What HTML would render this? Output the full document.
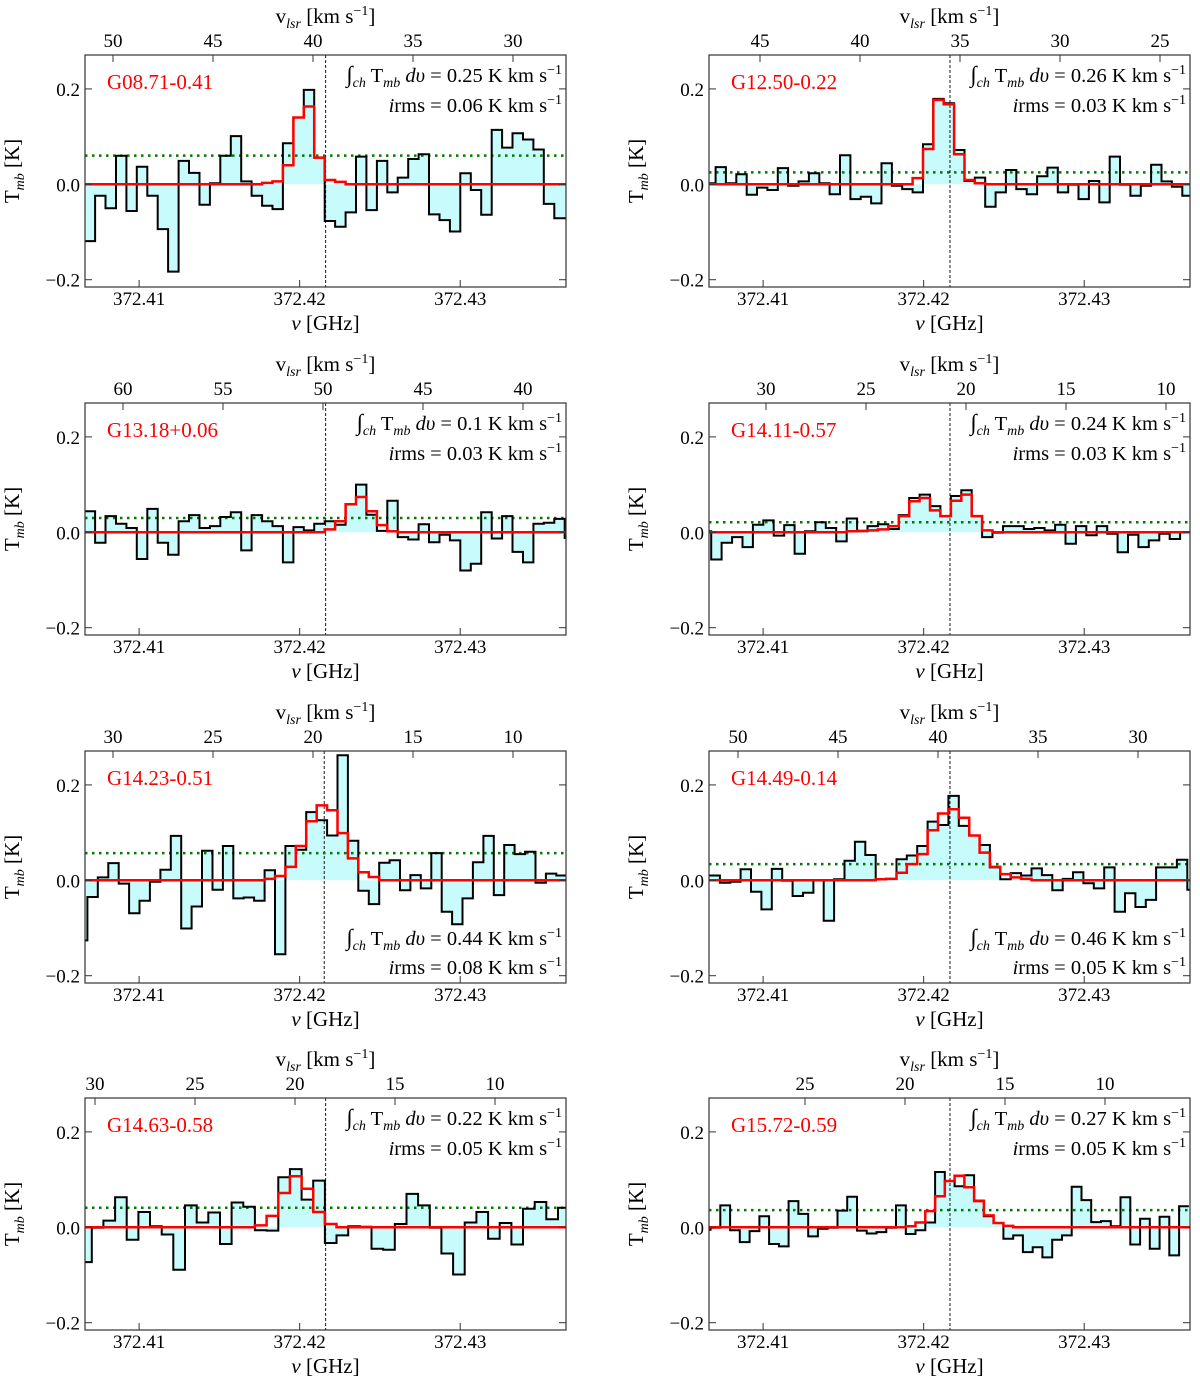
<!DOCTYPE html>
<html><head><meta charset="utf-8"><title>Spectra</title>
<style>
html,body{margin:0;padding:0;background:#fff;}
svg{display:block;font-family:"Liberation Serif",serif;}
</style></head>
<body>
<svg id="fig" width="1200" height="1390" viewBox="0 0 1200 1390" xmlns="http://www.w3.org/2000/svg"></svg>
<script>
// ---- data ----
const names = ["G08.71-0.41","G12.50-0.22","G13.18+0.06","G14.11-0.57","G14.23-0.51","G14.49-0.14","G14.63-0.58","G15.72-0.59"];
const intFlux = ["0.25","0.26","0.1","0.24","0.44","0.46","0.22","0.27"];
const irms = ["0.06","0.03","0.03","0.03","0.08","0.05","0.05","0.05"];
const rmsLevel = [0.06,0.025,0.03,0.021,0.057,0.034,0.041,0.036];
const nuStart = [372.406609,372.406392,372.406609,372.406119,372.406132,372.40666,372.406325,372.406119];
const nuStep = [0.00065,0.000646,0.00065,0.000649,0.000649,0.000647,0.000726,0.000608];
const restNu = [372.42162,372.42164,372.42162,372.42164,372.42153,372.42164,372.42162,372.42164];
const vLeft = [51.4,47.55,61.9,32.85,31.4,51.45,30.5,29.8];
const T1=[-0.119,-0.024,-0.05,0.06,-0.056,0.037,-0.024,-0.094,-0.183,0.049,0.024,-0.043,0.002,0.06,0.101,0.006,-0.024,-0.045,-0.052,0.086,0.14,0.198,0.056,-0.077,-0.089,-0.059,0.058,-0.054,0.049,-0.017,0.014,0.053,0.063,-0.063,-0.075,-0.099,0.023,-0.012,-0.064,0.114,0.077,0.107,0.094,0.073,-0.041,-0.071,-0.071];
const T2=[0.002,0.036,0.002,0.021,-0.022,-0.007,-0.012,0.034,-0.003,0.006,0.023,0.002,-0.021,0.061,-0.031,-0.026,-0.04,0.044,-0.003,-0.01,-0.017,0.084,0.179,0.17,0.072,0.007,0.014,-0.047,-0.017,0.03,-0.01,-0.021,0.017,0.035,-0.017,-0.001,-0.031,0.007,-0.038,0.058,-0.001,-0.024,-0.003,0.041,0.006,-0.005,-0.024];
const T3=[0.044,-0.022,0.034,0.018,0.009,-0.056,0.049,-0.022,-0.047,0.023,0.036,0.009,0.013,0.032,0.042,-0.038,0.036,0.023,0.013,-0.063,0.011,0.004,0.018,0.023,0.016,0.059,0.1,0.037,0.003,0.066,-0.01,-0.015,0.017,-0.021,-0.005,-0.017,-0.08,-0.066,0.042,-0.013,0.034,-0.041,-0.063,0.018,0.02,0.028,-0.012];
const T4=[0.002,-0.057,-0.022,-0.01,-0.031,0.016,0.025,-0.007,0.015,-0.045,0.002,0.021,0.009,-0.019,0.029,0.002,0.013,0.017,0.007,0.036,0.072,0.079,0.055,0.034,0.076,0.088,0.034,-0.01,-0.001,0.013,0.013,0.007,0.009,0.004,0.016,-0.024,0.013,-0.006,0.013,-0.003,-0.042,-0.005,-0.031,-0.017,-0.003,-0.014,0];
const T5=[-0.126,-0.035,0.006,0.036,-0.007,-0.069,-0.043,-0.003,0.022,0.093,-0.101,-0.055,0.062,-0.02,0.072,-0.038,-0.036,-0.043,0.021,-0.155,0.072,0.064,0.143,0.126,0.094,0.262,0.083,-0.022,-0.05,0.037,0.042,-0.021,0.011,-0.017,0.057,-0.066,-0.092,-0.038,0.038,0.093,-0.031,0.074,0.055,0.06,-0.005,0.014,0.01];
const T6=[0.01,-0.005,-0.003,0.023,-0.024,-0.061,0.024,-0.001,-0.033,-0.026,0,-0.085,0.002,0.041,0.081,0.053,0.002,0.003,0.044,0.052,0.072,0.123,0.116,0.177,0.114,0.094,0.074,0.027,0.002,0.015,0.01,0.025,0.011,-0.021,0.003,0.017,-0.006,-0.017,0.027,-0.066,-0.027,-0.056,-0.041,0.027,0.027,0.043,-0.02];
const T7=[-0.073,-0.001,0.014,0.063,-0.026,0.032,0.002,-0.015,-0.089,0.046,0.01,0.031,-0.035,0.052,0.043,-0.006,-0.007,0.105,0.122,0.058,0.098,-0.033,-0.017,0.002,0.001,-0.045,-0.047,0.007,0.07,0.046,-0.001,-0.055,-0.099,0.01,0.032,-0.024,0.009,-0.036,0.039,0.053,0.017,0.041];
const T8=[-0.005,-0.001,0.046,-0.006,-0.031,-0.008,0.023,-0.035,-0.04,0.055,0.028,-0.019,-0.003,-0.001,0.035,0.064,-0.007,-0.013,-0.01,-0.001,0.046,-0.014,-0.006,0.01,0.116,0.097,0.086,0.109,0.056,0.023,0.009,-0.024,-0.017,-0.052,-0.042,-0.063,-0.026,-0.017,0.085,0.057,0.011,0.013,0.002,0.063,-0.036,0.018,-0.045,0.022,-0.059,0.044];
const fitFirst = [17,20,23,14,18,16,15,21];
const F1=[0.003,0.006,0.04,0.14,0.163,0.056,0.009,0.005];
const F2=[0.013,0.074,0.177,0.168,0.063,0.009,0.002];
const F3=[0.006,0.023,0.059,0.074,0.044,0.015,0.002];
const F4=[0.002,0.003,0.004,0.006,0.013,0.034,0.065,0.072,0.046,0.034,0.066,0.079,0.034,0.004];
const F5=[0.003,0.009,0.028,0.072,0.124,0.157,0.147,0.099,0.046,0.017,0.007];
const F6=[0.002,0.003,0.016,0.034,0.055,0.105,0.14,0.149,0.131,0.094,0.058,0.028,0.013,0.006,0.003];
const F7=[0.004,0.024,0.072,0.107,0.081,0.032,0.007];
const F8=[0.002,0.01,0.034,0.065,0.097,0.108,0.084,0.055,0.025,0.009,0.003];
const yTicks=[0.2,0.0,-0.2];
const yTickLabels=["0.2","0.0","\u22120.2"];
const xTicks=[372.41,372.42,372.43];
const xTickLabels=["372.41","372.42","372.43"];
const vTickVals=[[50,45,40,35,30],[45,40,35,30,25],[60,55,50,45,40],[30,25,20,15,10],[30,25,20,15,10],[50,45,40,35,30],[30,25,20,15,10],[25,20,15,10]];
const annotBottom=[false,false,false,false,true,true,false,false];
const Tall=[T1,T2,T3,T4,T5,T6,T7,T8];
const Fall=[F1,F2,F3,F4,F5,F6,F7,F8];

// ---- layout ----
const NS="http://www.w3.org/2000/svg";
const svg=document.getElementById('fig');
const colX=[85,709], rowY=[0,348,696,1043];
const PW=481, TOP=55, BOT=287, Y0=184.3, KPX=477;
const NUMIN=372.40663, NUMAX=372.43659;
function mk(tag,attrs,parent){const e=document.createElementNS(NS,tag);for(const k in attrs)e.setAttribute(k,attrs[k]);(parent||svg).appendChild(e);return e;}

for(let p=0;p<8;p++){
  const col=p%2,row=Math.floor(p/2);
  const x0=colX[col], dy=rowY[row];
  const X=nu=>x0+(nu-NUMIN)/(NUMAX-NUMIN)*PW;
  const Y=t=>dy+Y0-t*KPX;
  const g=mk('g',{});
  
  
  const cid='clip'+p;
  const cp=mk('clipPath',{id:cid},g);mk('rect',{x:x0,y:dy+TOP,width:PW,height:BOT-TOP},cp);
  const T=Tall[p];
  let d='';
  for(let i=0;i<T.length;i++){
    const xa=X(nuStart[p]+i*nuStep[p]), xb=X(nuStart[p]+(i+1)*nuStep[p]), y=Y(T[i]);
    d+=(i===0?'M':'L')+xa.toFixed(1)+','+y.toFixed(1)+'L'+xb.toFixed(1)+','+y.toFixed(1);
  }
  const xs=X(nuStart[p]), xe=X(nuStart[p]+T.length*nuStep[p]);
  const fill='M'+xs.toFixed(1)+','+Y(0)+d.replace(/^M/,'L')+'L'+xe.toFixed(1)+','+Y(0)+'Z';
  const cg=mk('g',{'clip-path':'url(#'+cid+')'},g);
  const fp=mk('path',{d:fill,fill:'#c8fbfb',stroke:'none'},cg);
  
  
  // fit: continuous step
  const F=Fall[p];
  const fs=fitFirst[p];
  let fd='M'+X(NUMIN-0.001).toFixed(1)+','+Y(0).toFixed(1);
  let prev=0;
  for(let i=0;i<F.length;i++){
    const xa=X(nuStart[p]+(fs+i)*nuStep[p]), xb=X(nuStart[p]+(fs+i+1)*nuStep[p]);
    fd+='L'+xa.toFixed(1)+','+Y(prev).toFixed(1)+'L'+xa.toFixed(1)+','+Y(F[i]).toFixed(1)+'L'+xb.toFixed(1)+','+Y(F[i]).toFixed(1);
    prev=F[i];
  }
  const xEnd=X(nuStart[p]+(fs+F.length)*nuStep[p]);
  fd+='L'+xEnd.toFixed(1)+','+Y(0).toFixed(1)+'L'+X(NUMAX+0.001).toFixed(1)+','+Y(0).toFixed(1);
  const dl=mk('line',{x1:X(restNu[p]),x2:X(restNu[p]),y1:dy+TOP,y2:dy+BOT,stroke:'#000','stroke-width':0.9,'stroke-dasharray':'3,2'},cg);
  
  
  const rl=mk('line',{x1:x0,x2:x0+PW,y1:Y(rmsLevel[p]),y2:Y(rmsLevel[p]),stroke:'#007a00','stroke-width':2.5,'stroke-dasharray':'2.5,4.5'},cg);
  
  
  const sp=mk('path',{d:d,fill:'none',stroke:'#000','stroke-width':2,'stroke-linejoin':'miter'},cg);
  
  
  const fl=mk('path',{d:fd,fill:'none',stroke:'#ff0000','stroke-width':2.5},cg);
  
  
  const fr=mk('rect',{x:x0,y:dy+TOP,width:PW,height:BOT-TOP,fill:'none',stroke:'#333','stroke-width':1.2},g);
  
  
  for(let k=0;k<yTicks.length;k++){
    const y=Y(yTicks[k]);
    mk('line',{x1:x0,x2:x0+7,y1:y,y2:y,stroke:'#333','stroke-width':1},g);
    mk('line',{x1:x0+PW-7,x2:x0+PW,y1:y,y2:y,stroke:'#333','stroke-width':1},g);
    const t=mk('text',{x:x0-5,y:y+7,'text-anchor':'end','font-size':19,fill:'#000'},g);
    t.textContent=yTickLabels[k];
    
    
  }
  for(let k=0;k<xTicks.length;k++){
    const x=X(xTicks[k]);
    mk('line',{x1:x,x2:x,y1:dy+BOT,y2:dy+BOT-7,stroke:'#333','stroke-width':1},g);
    const t=mk('text',{x:x,y:dy+305,'text-anchor':'middle','font-size':19,fill:'#000'},g);
    t.textContent=xTickLabels[k];
    
    
  }
  const vt=vTickVals[p];
  for(let k=0;k<vt.length;k++){
    const x=x0+(vLeft[p]-vt[k])/0.05;
    mk('line',{x1:x,x2:x,y1:dy+TOP,y2:dy+TOP+7,stroke:'#333','stroke-width':1},g);
    const t=mk('text',{x:x,y:dy+47,'text-anchor':'middle','font-size':19,fill:'#000'},g);
    t.textContent=String(vt[k]);
    
    
  }
  const cx=x0+PW/2;
  const xl=mk('text',{x:cx,y:dy+330,'text-anchor':'middle','font-size':21,fill:'#000'},g);
  xl.innerHTML='<tspan font-style="italic">ν</tspan> [GHz]';
  
  
  const vl=mk('text',{x:cx,y:dy+23,'text-anchor':'middle','font-size':21,fill:'#000'},g);
  vl.innerHTML='v<tspan font-size="14" font-style="italic" dy="5">lsr</tspan><tspan dy="-5"> [km s</tspan><tspan font-size="14" dy="-8">−1</tspan><tspan dy="8">]</tspan>';
  
  
  const yl=mk('text',{x:0,y:0,'text-anchor':'middle','font-size':21,fill:'#000',transform:'translate('+(x0-66)+','+(dy+171)+') rotate(-90)'},g);
  yl.innerHTML='T<tspan font-size="14" font-style="italic" dy="5">mb</tspan><tspan dy="-5"> [K]</tspan>';
  
  
  const nm=mk('text',{x:x0+22,y:dy+89,'font-size':21,fill:'#ff0000'},g);
  nm.textContent=names[p];
  
  
  const ay1=annotBottom[p]?dy+249:dy+82, ay2=annotBottom[p]?dy+278:dy+112;
  const a1=mk('text',{x:x0+PW-4,y:ay1,'text-anchor':'end','font-size':20.5,fill:'#000'},g);
  a1.innerHTML='<tspan font-size="23" font-style="italic">∫</tspan><tspan font-size="14" font-style="italic" dy="5">ch</tspan><tspan dy="-5"> T</tspan><tspan font-size="14" font-style="italic" dy="5">mb</tspan><tspan dy="-5" font-style="italic"> dυ</tspan><tspan> = '+intFlux[p]+' K km s</tspan><tspan font-size="14" dy="-8">−1</tspan>';
  
  
  const a2=mk('text',{x:x0+PW-4,y:ay2,'text-anchor':'end','font-size':20.5,fill:'#000'},g);
  a2.innerHTML='<tspan font-style="italic">i</tspan>rms = '+irms[p]+' K km s<tspan font-size="14" dy="-8">−1</tspan>';
  
  
}
</script>
</body></html>
